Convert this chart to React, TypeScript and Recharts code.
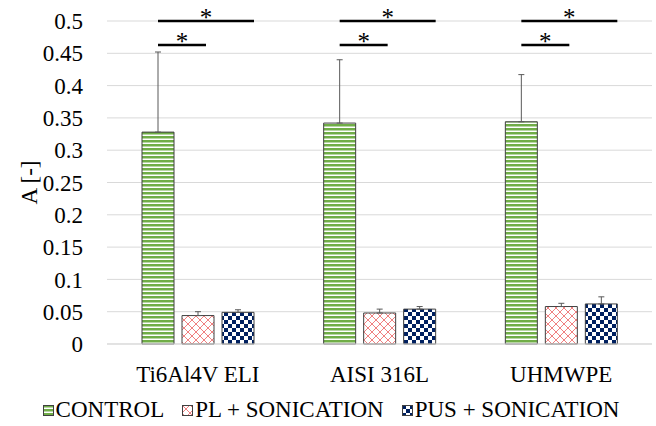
import React from 'react';
import { BarChart, Bar, XAxis, YAxis, CartesianGrid, ErrorBar, Legend } from 'recharts';

const categories = ['Ti6Al4V ELI', 'AISI 316L', 'UHMWPE'];
const controlValues = [0.328, 0.342, 0.344];
const controlErrors = [0.124, 0.098, 0.073];
const plValues = [0.044, 0.048, 0.058];
const plErrors = [0.006, 0.006, 0.005];
const pusValues = [0.049, 0.054, 0.062];
const pusErrors = [0.004, 0.004, 0.011];
const yTicks = [0, 0.05, 0.1, 0.15, 0.2, 0.25, 0.3, 0.35, 0.4, 0.45, 0.5];
// significance brackets (control vs PUS, control vs PL)
const sigHigh = 0.5;
const sigLow = 0.463;

const seriesNames = ['CONTROL', 'PL + SONICATION', 'PUS + SONICATION'];
const patternIds = ['pCtrl', 'pPl', 'pPus'];

const FONT = "'Liberation Serif', 'Tinos', 'DejaVu Serif', serif";
const FS = 23;
const BAR_SIZE = 32;
const BAR_GAP = 8;

const data = categories.map((name, i) => ({
  name,
  control: controlValues[i],
  controlErr: [0, controlErrors[i]],
  pl: plValues[i],
  plErr: [0, plErrors[i]],
  pus: pusValues[i],
  pusErr: [0, pusErrors[i]],
}));

const Patterns = () => (
  <defs>
    <pattern id="pCtrl" width={4} height={4} patternUnits="userSpaceOnUse">
      <rect width={4} height={4} fill="#ffffff" />
      <rect width={4} height={2.5} fill="#70AD47" />
    </pattern>
    <pattern id="pPl" width={8} height={8} patternUnits="userSpaceOnUse">
      <rect width={8} height={8} fill="#ffffff" />
      <path d="M0,0 L8,8 M0,8 L8,0" stroke="#F08080" strokeWidth={1} />
    </pattern>
    <pattern id="pPus" width={8} height={8} patternUnits="userSpaceOnUse">
      <rect width={8} height={8} fill="#ffffff" />
      <rect width={4} height={4} fill="#002060" />
      <rect x={4} y={4} width={4} height={4} fill="#002060" />
    </pattern>
  </defs>
);

const SigMarks = (p: any) => {
  const vb = p.viewBox && p.viewBox.width != null ? p.viewBox : p;
  const { x, y, width, height } = vb;
  const value = typeof p.value === 'number' ? p.value : controlValues[p.index ?? 0];
  const base = y + height;
  const k = height / value;
  const cx = x + width / 2;
  const yHi = base - sigHigh * k;
  const yLo = base - sigLow * k;
  const endHi = x + 3 * width + 2 * BAR_GAP;
  const endLo = x + 2 * width;
  return (
    <g style={{ fontFamily: FONT }}>
      <line x1={cx} x2={endHi} y1={yHi} y2={yHi} stroke="#000" strokeWidth={2.5} />
      <text x={(cx + endHi) / 2} y={yHi + 5} textAnchor="middle" fontSize={25} fill="#000">*</text>
      <line x1={cx} x2={endLo} y1={yLo} y2={yLo} stroke="#000" strokeWidth={2.5} />
      <text x={(cx + endLo) / 2} y={yLo + 5} textAnchor="middle" fontSize={25} fill="#000">*</text>
    </g>
  );
};

const YLabel = (p: any) => {
  const vb = p.viewBox || { y: 21, height: 323 };
  const cy = vb.y + vb.height / 2;
  return (
    <text x={37} y={cy} transform={`rotate(-90, 37, ${cy})`} textAnchor="middle" fontSize={FS} style={{ fontFamily: FONT }} fill="#000">
      A [-]
    </text>
  );
};

const LegendBox = () => (
  <div style={{ height: 32, lineHeight: '32px', display: 'flex', justifyContent: 'center', gap: 18, fontFamily: FONT, fontSize: FS, color: '#000', paddingLeft: 10 }}>
    {seriesNames.map((n, i) => (
      <span key={n} style={{ display: 'flex', alignItems: 'center' }}>
        <svg width={11} height={11} style={{ marginRight: 2 }}>
          <rect x={0.5} y={0.5} width={10} height={10} fill={`url(#${patternIds[i]})`} stroke="#404040" strokeWidth={1} />
        </svg>
        {n}
      </span>
    ))}
  </div>
);

export default function App() {
  return (
    <div style={{ position: 'fixed', left: 0, top: 0, background: '#fff', fontFamily: FONT }}>
      <svg width={0} height={0} style={{ position: 'absolute' }}>
        <Patterns />
      </svg>
      <BarChart
        width={656}
        height={426}
        data={data}
        margin={{ top: 21, right: 4, left: 0, bottom: 0 }}
        barSize={BAR_SIZE}
        barGap={BAR_GAP}
        style={{ fontFamily: FONT }}
      >
        <Patterns />
        <CartesianGrid vertical={false} stroke="#D9D9D9" strokeWidth={1} />
        <XAxis
          dataKey="name"
          height={50}
          tickSize={0}
          tickMargin={22}
          tickLine={false}
          axisLine={{ stroke: '#D9D9D9' }}
          tick={{ fontSize: FS, fill: '#000', style: { fontFamily: FONT } }}
          interval={0}
        />
        <YAxis
          width={107}
          domain={[0, 0.5]}
          ticks={yTicks}
          tickSize={0}
          tickMargin={24}
          tickLine={false}
          axisLine={false}
          tick={{ fontSize: FS, fill: '#000', style: { fontFamily: FONT } }}
          label={<YLabel />}
        />
        <Legend verticalAlign="bottom" height={32} content={<LegendBox />} />
        <Bar dataKey="control" name={seriesNames[0]} fill="url(#pCtrl)" stroke="#404040" strokeWidth={1} isAnimationActive={false} label={<SigMarks />}>
          <ErrorBar dataKey="controlErr" width={3} stroke="#595959" strokeWidth={1} />
        </Bar>
        <Bar dataKey="pl" name={seriesNames[1]} fill="url(#pPl)" stroke="#404040" strokeWidth={1} isAnimationActive={false}>
          <ErrorBar dataKey="plErr" width={3} stroke="#595959" strokeWidth={1} />
        </Bar>
        <Bar dataKey="pus" name={seriesNames[2]} fill="url(#pPus)" stroke="#404040" strokeWidth={1} isAnimationActive={false}>
          <ErrorBar dataKey="pusErr" width={3} stroke="#595959" strokeWidth={1} />
        </Bar>
      </BarChart>
    </div>
  );
}
